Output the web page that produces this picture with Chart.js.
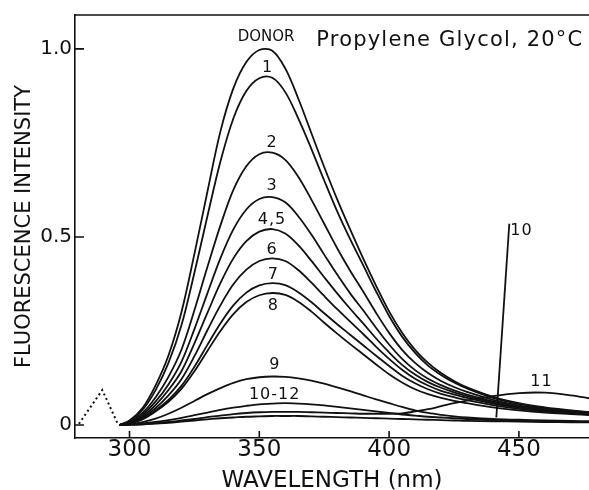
<!DOCTYPE html>
<html>
<head>
<meta charset="utf-8">
<script src="https://cdn.jsdelivr.net/npm/chart.js@4/dist/chart.umd.min.js"></script>
<style>
  body { margin: 0; background: #fff; }
  #c { display: block; }
</style>
</head>
<body>
<canvas id="c" width="589" height="490"></canvas>
<script>
// data
const wavelengths = [296, 300, 305, 310, 315, 320, 325, 330, 335, 340, 345, 350, 355, 360, 365, 370, 375, 380, 385, 390, 395, 400, 405, 410, 415, 420, 425, 430, 440, 450, 460, 470, 478];

const donor = [0, 0.012, 0.045, 0.105, 0.185, 0.30, 0.455, 0.62, 0.78, 0.895, 0.965, 0.997, 0.995, 0.948, 0.868, 0.777, 0.686, 0.60, 0.52, 0.443, 0.37, 0.302, 0.245, 0.2, 0.165, 0.138, 0.117, 0.1, 0.075, 0.058, 0.047, 0.039, 0.034];
const curve1 = [0, 0.01, 0.04, 0.092, 0.165, 0.265, 0.405, 0.555, 0.70, 0.815, 0.888, 0.922, 0.923, 0.885, 0.815, 0.735, 0.65, 0.568, 0.494, 0.425, 0.355, 0.29, 0.235, 0.192, 0.158, 0.133, 0.113, 0.097, 0.072, 0.056, 0.045, 0.038, 0.033];
const curve2 = [0, 0.008, 0.032, 0.073, 0.128, 0.2, 0.305, 0.42, 0.53, 0.625, 0.688, 0.72, 0.724, 0.705, 0.66, 0.6, 0.535, 0.47, 0.41, 0.355, 0.298, 0.245, 0.2, 0.165, 0.138, 0.117, 0.101, 0.088, 0.067, 0.052, 0.043, 0.036, 0.032];
const curve3 = [0, 0.007, 0.027, 0.062, 0.108, 0.168, 0.255, 0.35, 0.443, 0.52, 0.573, 0.601, 0.606, 0.592, 0.555, 0.507, 0.453, 0.4, 0.35, 0.305, 0.258, 0.214, 0.176, 0.146, 0.123, 0.106, 0.092, 0.081, 0.063, 0.049, 0.041, 0.035, 0.031];
const curve45 = [0, 0.006, 0.023, 0.053, 0.093, 0.143, 0.217, 0.298, 0.377, 0.443, 0.489, 0.514, 0.521, 0.509, 0.478, 0.437, 0.393, 0.35, 0.309, 0.27, 0.23, 0.193, 0.16, 0.134, 0.114, 0.099, 0.087, 0.077, 0.06, 0.048, 0.04, 0.034, 0.03];
const curve6 = [0, 0.005, 0.02, 0.045, 0.079, 0.122, 0.183, 0.252, 0.318, 0.374, 0.413, 0.436, 0.443, 0.436, 0.412, 0.379, 0.343, 0.308, 0.275, 0.242, 0.208, 0.176, 0.147, 0.123, 0.105, 0.091, 0.081, 0.072, 0.057, 0.046, 0.038, 0.032, 0.029];
const curve7 = [0, 0.004, 0.017, 0.039, 0.067, 0.104, 0.155, 0.213, 0.27, 0.318, 0.352, 0.371, 0.377, 0.372, 0.353, 0.327, 0.297, 0.268, 0.24, 0.212, 0.184, 0.157, 0.131, 0.111, 0.095, 0.083, 0.074, 0.066, 0.053, 0.043, 0.036, 0.031, 0.028];
const curve8 = [0, 0.004, 0.015, 0.036, 0.062, 0.096, 0.143, 0.197, 0.25, 0.295, 0.327, 0.345, 0.351, 0.346, 0.328, 0.302, 0.272, 0.243, 0.215, 0.188, 0.161, 0.135, 0.113, 0.095, 0.082, 0.072, 0.064, 0.058, 0.047, 0.039, 0.033, 0.029, 0.026];
const curve9 = [0, 0.002, 0.008, 0.017, 0.03, 0.046, 0.064, 0.082, 0.098, 0.112, 0.122, 0.127, 0.129, 0.128, 0.124, 0.118, 0.11, 0.1, 0.09, 0.079, 0.068, 0.058, 0.048, 0.039, 0.032, 0.027, 0.023, 0.02, 0.016, 0.014, 0.012, 0.011, 0.01];
const curve10 = [0, 0.001, 0.004, 0.008, 0.013, 0.019, 0.026, 0.033, 0.04, 0.046, 0.051, 0.055, 0.057, 0.058, 0.057, 0.055, 0.052, 0.048, 0.044, 0.04, 0.036, 0.032, 0.028, 0.025, 0.022, 0.02, 0.018, 0.016, 0.013, 0.011, 0.01, 0.009, 0.008];
const curve11 = [0, 0.001, 0.002, 0.005, 0.008, 0.012, 0.016, 0.021, 0.025, 0.029, 0.032, 0.034, 0.035, 0.035, 0.035, 0.034, 0.033, 0.032, 0.031, 0.03, 0.03, 0.03, 0.031, 0.036, 0.042, 0.05, 0.058, 0.065, 0.077, 0.085, 0.086, 0.079, 0.07];
const curve12 = [0, 0.001, 0.002, 0.004, 0.006, 0.009, 0.012, 0.015, 0.018, 0.02, 0.022, 0.023, 0.024, 0.024, 0.024, 0.023, 0.022, 0.021, 0.02, 0.019, 0.018, 0.017, 0.016, 0.015, 0.014, 0.013, 0.012, 0.011, 0.01, 0.009, 0.008, 0.007, 0.007];

// off-scale line of sample 10 near 445 nm
const spikeWl = [441.3, 446.3];
const spikeVal = [0.02, 0.535];

// dotted excitation peak
const excWl = [280.5, 289.5, 295.5];
const excVal = [0.003, 0.093, 0.003];

// axes
const xTicks = [300, 350, 400, 450];
const yTicks = [0, 0.5, 1.0];
const yTickLabels = ["0", "0.5", "1.0"];

// curve labels (data coords)
const labelText = ["DONOR", "1", "2", "3", "4,5", "6", "7", "8", "9", "10-12", "10", "11"];
const labelWl = [352.6, 353.2, 354.9, 354.9, 354.9, 354.9, 355.4, 355.4, 356, 355.9, 451, 458.7];
const labelVal = [1.032, 0.95, 0.751, 0.637, 0.546, 0.467, 0.398, 0.318, 0.159, 0.08, 0.517, 0.115];

const curves = [donor, curve1, curve2, curve3, curve45, curve6, curve7, curve8, curve9, curve10, curve11, curve12];

function toPoints(xs, ys) {
  let pts = [];
  for (let i = 0; i < xs.length; i++) pts.push({ x: xs[i], y: ys[i] });
  return pts;
}

let datasets = [];
for (let i = 0; i < curves.length; i++) {
  datasets.push({
    data: toPoints(wavelengths, curves[i]),
    borderColor: "#111",
    borderWidth: 1.8,
    pointRadius: 0,
    showLine: true,
    tension: 0.35
  });
}
datasets.push({
  data: toPoints(spikeWl, spikeVal),
  borderColor: "#111", borderWidth: 1.8, pointRadius: 0, showLine: true
});
datasets.push({
  data: toPoints(excWl, excVal),
  borderColor: "#111", borderWidth: 2, borderDash: [2, 3], pointRadius: 0, showLine: true
});

// frame top, inward ticks, text labels
const decor = {
  id: "decor",
  afterDraw(chart) {
    const ctx = chart.ctx;
    const a = chart.chartArea;
    const xs = chart.scales.x, ys = chart.scales.y;
    ctx.save();
    ctx.strokeStyle = "#111";
    ctx.lineWidth = 1.6;
    ctx.beginPath();
    ctx.moveTo(a.left, a.top);
    ctx.lineTo(a.right, a.top);
    for (let v of xTicks) {
      let px = xs.getPixelForValue(v);
      ctx.moveTo(px, a.bottom);
      ctx.lineTo(px, a.bottom - 7);
    }
    for (let v of yTicks) {
      let py = ys.getPixelForValue(v);
      ctx.moveTo(a.left, py);
      ctx.lineTo(a.left + 9, py);
    }
    ctx.stroke();

    ctx.fillStyle = "#111";
    ctx.textAlign = "center";
    ctx.textBaseline = "middle";
    for (let i = 0; i < labelText.length; i++) {
      ctx.font = (i === 0 ? "15px" : "16px") + " 'DejaVu Sans'";
      ctx.letterSpacing = i === 0 ? "0px" : "1px";
      ctx.fillText(labelText[i], xs.getPixelForValue(labelWl[i]), ys.getPixelForValue(labelVal[i]));
    }
    ctx.font = "21px 'DejaVu Sans'";
    ctx.letterSpacing = "1.2px";
    ctx.fillText("Propylene Glycol, 20°C", xs.getPixelForValue(423.4), ys.getPixelForValue(1.021));
    ctx.restore();
  }
};

new Chart(document.getElementById("c"), {
  type: "scatter",
  data: { datasets: datasets },
  options: {
    responsive: false,
    animation: false,
    events: [],
    layout: { padding: { top: 13, left: 0, right: 0, bottom: 0 } },
    plugins: { legend: { display: false }, tooltip: { enabled: false } },
    scales: {
      x: {
        type: "linear",
        min: 279,
        max: 477,
        afterBuildTicks: s => { s.ticks = xTicks.map(v => ({ value: v })); },
        afterFit: s => { s.height = 52; },
        grid: { display: false, drawTicks: false },
        border: { display: true, color: "#111", width: 1.6 },
        ticks: {
          color: "#111",
          padding: 1,
          font: { family: "DejaVu Sans", size: 23, lineHeight: 1 },
          callback: v => String(v)
        },
        title: {
          display: true,
          text: "WAVELENGTH (nm)",
          color: "#111",
          padding: 0,
          font: { family: "DejaVu Sans", size: 23, lineHeight: 0.78 }
        }
      },
      y: {
        min: -0.0345,
        max: 1.09,
        afterBuildTicks: s => { s.ticks = yTicks.map(v => ({ value: v })); },
        afterFit: s => { s.width = 75; },
        grid: { display: false, drawTicks: false },
        border: { display: true, color: "#111", width: 1.6 },
        ticks: {
          color: "#111",
          padding: 3,
          font: { family: "DejaVu Sans", size: 20 },
          callback: v => yTickLabels[yTicks.indexOf(v)]
        },
        title: {
          display: true,
          text: "FLUORESCENCE INTENSITY",
          color: "#111",
          padding: { top: 12, bottom: 0 },
          font: { family: "DejaVu Sans", size: 21 }
        }
      }
    }
  },
  plugins: [decor]
});
</script>
</body>
</html>
